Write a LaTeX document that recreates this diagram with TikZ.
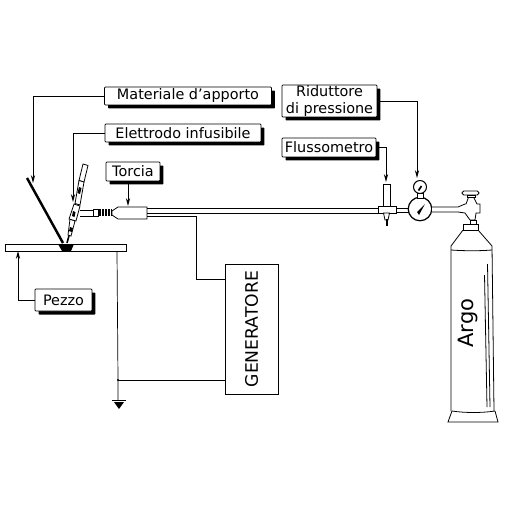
\documentclass[tikz,border=0pt]{standalone}
\usepackage{fontspec}
\setmainfont{DejaVu Sans}[Scale=1.0]
\usetikzlibrary{positioning, arrows.meta, calc, shadows}
\begin{document}
\begin{tikzpicture}[
        x=0.02cm, y=-0.02cm,
        line width=0.45pt,
        label/.style={draw=black, fill=white, rounded corners=0.5pt, inner sep=0pt, font=\fontsize{8.2}{9.4}\selectfont, align=center,
            drop shadow={shadow xshift=0.07cm, shadow yshift=-0.07cm, fill=black, opacity=1}},
        unit/.style={draw=black, fill=white, inner sep=0pt, font=\fontsize{9.8}{11}\selectfont},
        lead/.style={-{Stealth[length=4.5pt, width=2.4pt]}},
        wire/.style={line width=0.4pt},
        hollow part/.style={fill=white, draw=black}
        ]
        \useasboundingbox (0,0) rectangle (510,510);

        % Labels
        \node[label, minimum width=3.34cm, minimum height=0.36cm] (materiale) at (188,96) {Materiale d'apporto};
        \node[label, minimum width=3.12cm, minimum height=0.36cm] (elettrodo) at (183,133) {Elettrodo infusibile};
        \node[label, minimum width=1.08cm, minimum height=0.38cm] (torcia) at (133,171.5) {Torcia};
        \node[label, minimum width=1.9cm, minimum height=0.64cm] (riduttore) at (329.5,101) {Riduttore\\di pressione};
        \node[label, minimum width=1.88cm, minimum height=0.38cm] (flussometro) at (329,147.5) {Flussometro};
        \node[label, minimum width=1.14cm, minimum height=0.44cm] (pezzo) at (63.5,300) {Pezzo};
        \node[unit, rotate=90, minimum width=2.6cm, minimum height=1.06cm] (generatore) at (251.5,329) {GENERATORE};

        % Workpiece and weld pool
        \node[draw=black, fill=white, inner sep=0pt, minimum width=2.42cm, minimum height=0.14cm] (plate) at (65.5,247.5) {};
        \fill[black] (58,244) -- (74,244) -- (71,251) -- (62,251) -- cycle;

        % Filler rod
        \draw[line width=1.4pt] (27,178) -- (63,243);

        % Torch
        \draw[line width=0.9pt] (67,243) -- (70,232);
        \draw[hollow part] (70,219) -- (75,221) -- (71,236) -- (68,235) -- cycle;
        \fill[black] (70,227) -- (73,228) -- (72,232) -- (69,231) -- cycle;
        \draw[hollow part] (83,164) -- (88,165.5) -- (84,182) -- (79,180.5) -- cycle;
        \draw[hollow part] (79,180.5) -- (84,182) -- (80,205) -- (75,203.5) -- cycle;
        \fill[black] (79,187) -- (81.5,188) -- (80,194) -- (77.5,193) -- cycle;
        \draw[hollow part] (74,204) -- (80,206) -- (76,221) -- (69,219) -- cycle;
        \fill[black] (73,211) -- (75.5,212) -- (74.5,217) -- (72,216) -- cycle;

        % Torch neck, coil and handle
        \draw[hollow part] (80,210) -- (93,210) -- (93,216) -- (80,216);
        \draw[hollow part] (93,209) rectangle (98,216);
        \fill[black] (98,209) rectangle (112,216);
        \foreach \t in {101,104,107,110} {
            \draw[white, line width=0.3pt] (\t,209) -- (\t,216);
        }
        \draw[hollow part] (112,211) -- (118,207) -- (147,207) -- (147,219) -- (118,219) -- (112,215) -- cycle;

        % Gas hose
        \draw (147,208) -- (378,208);
        \draw (147,213) -- (378,213);

        % Flowmeter
        \node[draw=black, fill=white, inner sep=0pt, minimum width=0.36cm, minimum height=0.14cm] (flowblock) at (387,209.5) {};
        \draw[hollow part] (383,206) rectangle (390,184);
        \draw[hollow part] (383.5,213) -- (389.5,213) -- (388,220) -- (385,220) -- cycle;
        \draw[line width=1.1pt] (386.7,219) -- (386.7,226);
        \coordinate (flowtop) at (386,182);

        % Pressure reducer
        \draw (396,208) -- (409,208);
        \draw (396,212) -- (409,212);
        \node[circle, draw=black, fill=white, line width=0.7pt, inner sep=0pt, minimum size=0.47cm] (reducer) at (420,209) {};
        \draw[hollow part] (417,193) rectangle (423,198);
        \node[circle, draw=black, fill=white, line width=0.6pt, inner sep=0pt, minimum size=0.26cm] (gauge) at (420,187) {};
        \draw[line width=1pt] (418.5,190.5) -- (421.5,186);
        \fill[black] (417,212) -- (419,215) -- (425,204) -- cycle;
        \coordinate (gaugetop) at (417,178);

        % Cylinder valve
        \draw[fill=white, draw=black] (432,207) -- (458,207) -- (465,204) -- (466,204) -- (469,196) -- (473,196) -- (477,204) -- (480,204) -- (480,213) -- (476,213) -- (475,220) -- (470,220) -- (465,213) -- (458,212) -- (432,212);
        \draw[hollow part, rounded corners=1pt] (462,191) rectangle (479,195);
        \draw[hollow part] (467,195) rectangle (475,197);
        \draw[hollow part] (470,220) rectangle (476,224);
        \draw[hollow part] (463,224) rectangle (478,230);

        % Cylinder
        \draw (463,230) -- (451,246) -- (451,411);
        \draw (478,230) -- (492,246) -- (494,411);
        \draw (451,250) .. controls (465,251) and (480,251) .. (492,250);
        \draw (452,411) .. controls (465,413) and (482,413) .. (495,411);
        \draw (452,411) -- (448,422) -- (498,422) -- (495,411);
        \draw (484.5,275) -- (487,407);
        \draw (487.5,264) -- (490,407);
        \node[rotate=90, inner sep=0pt, font=\fontsize{12}{14}\selectfont] (argo) at (468,323) {Argo};

        % Leaders
        \coordinate (rodtip) at (33,183);
        \coordinate (torchtip) at (73,202);
        \coordinate (handletop) at (128,206);
        \coordinate (platelow) at (18,251);
        \draw[lead] (materiale.west) -| (rodtip);
        \draw[lead] (elettrodo.west) -| (torchtip);
        \draw[lead] (torcia.south -| handletop) -- (handletop);
        \draw[lead] (riduttore.east) -| (gaugetop);
        \draw[lead] (flussometro.east) -| (flowtop);
        \draw[lead] (pezzo.west) -| (platelow);

        % Welding circuit
        \coordinate (wirestart) at (147,216);
        \coordinate (wirebend) at (196,279);
        \coordinate (groundstart) at (117,251);
        \coordinate (junction) at (118,380);
        \coordinate (groundend) at (118,400);
        \draw[wire] (wirestart) -| (wirebend) -- (wirebend -| generatore.north);
        \draw[wire] (groundstart) -- (junction) -- (groundend);
        \draw[wire] (junction) -- (junction -| generatore.north);
        \fill (junction) circle (1.2);

        % Earth symbol
        \draw[line width=0.9pt] (112,400.5) -- (126,400.5);
        \fill[black] (114,402) -- (124,402) -- (119,409) -- cycle;
\end{tikzpicture}
\end{document}
